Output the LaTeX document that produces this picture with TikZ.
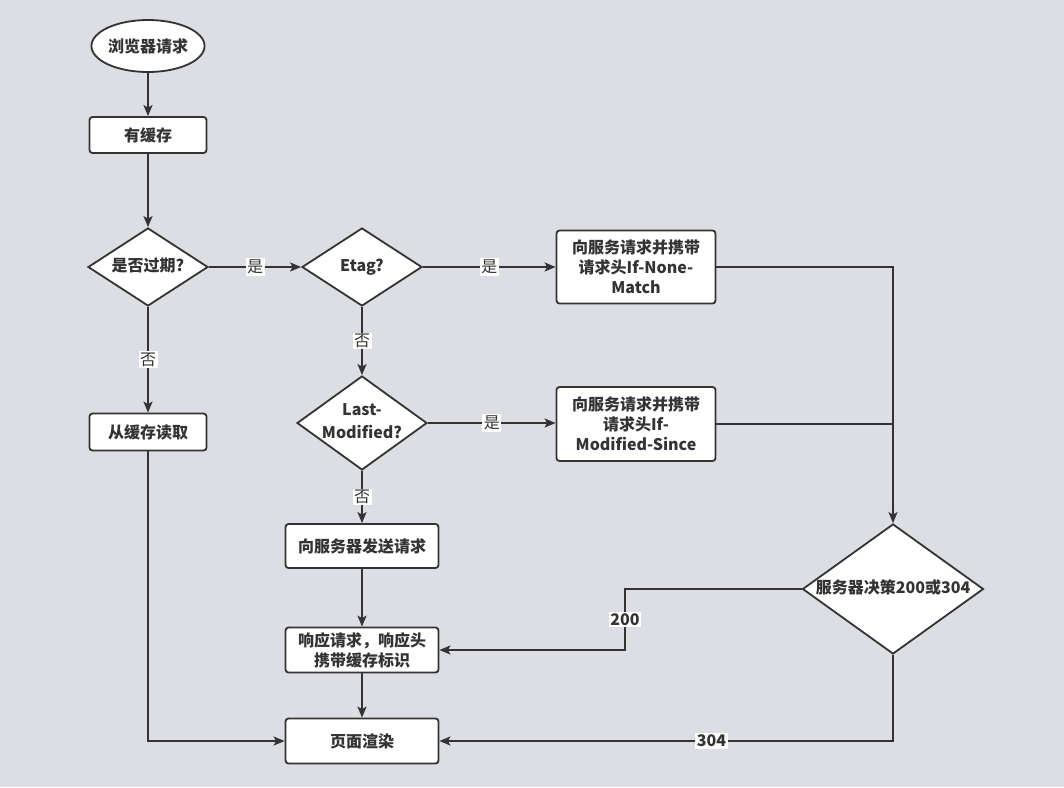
\documentclass[tikz,border=0pt]{standalone}
\usepackage{fontspec}
\setmainfont{Noto Sans CJK SC}
\usetikzlibrary{arrows.meta,shapes.geometric,calc}
\definecolor{bgc}{RGB}{221,222,227}
\definecolor{ln}{RGB}{51,51,51}
\newcommand{\zt}[1]{\makebox[0pt][c]{\begin{tabular}{@{}c@{}}#1\end{tabular}}}
\tikzset{
  base/.style={draw=ln, line width=1.8pt, fill=white, text=ln, inner sep=0pt, font=\fontsize{16}{20}\selectfont\bfseries},
  box/.style={base, rectangle, rounded corners=3pt, align=center},
  ell/.style={base, ellipse},
  dia/.style={base, diamond},
  arr/.style={draw=ln, line width=1.8pt, -{Stealth[length=11pt,width=9pt,inset=2.5pt]}},
  ln/.style={draw=ln, line width=1.8pt},
  lbl/.style={fill=white, text=ln, inner sep=1.5pt, font=\fontsize{16}{18}\selectfont},
  lblb/.style={lbl, font=\fontsize{16}{18}\selectfont\bfseries}
}
\begin{document}
\begin{tikzpicture}[x=1pt,y=-1pt]
\useasboundingbox (0,0) rectangle (1064,787);
\fill[bgc] (0,0) rectangle (1064,787);
\node[ell, minimum width=102pt, minimum height=52pt] (start) at (148,46) {浏览器请求};
\node[box, minimum width=117pt, minimum height=36pt] (cache) at (148,135) {有缓存};
\node[dia, minimum width=120pt, minimum height=78pt] (exp) at (148,267) {\zt{是否过期?}};
\node[dia, minimum width=120pt, minimum height=78pt] (etag) at (362,267) {\zt{Etag?}};
\node[box, minimum width=159pt, minimum height=73pt] (inm) at (636,267) {向服务请求并携带\\请求头If-None-\\Match};
\node[dia, minimum width=130pt, minimum height=94pt] (lm) at (362,423) {\zt{Last-\\[3pt]Modified?}};
\node[box, minimum width=159pt, minimum height=74pt] (ims) at (636,424) {向服务请求并携带\\请求头If-\\Modified-Since};
\node[box, minimum width=117pt, minimum height=37pt] (read) at (148,432) {从缓存读取};
\node[box, minimum width=153pt, minimum height=44pt] (send) at (362,546) {向服务器发送请求};
\node[box, minimum width=153pt, minimum height=45pt] (resp) at (362,650) {响应请求，响应头\\携带缓存标识};
\node[box, minimum width=153pt, minimum height=45pt] (render) at (362,741) {页面渲染};
\node[dia, minimum width=181pt, minimum height=130pt] (srv) at (893,589) {\zt{服务器决策200或304}};
\coordinate (c200) at (625,589);
\draw[arr] (start) -- (cache);
\draw[arr] (cache) -- (exp);
\draw[arr] (exp.east) -- node[lbl]{是} (etag.west);
\draw[arr] (exp.south) -- node[lbl]{否} (read.north);
\draw[arr] (etag.east) -- node[lbl]{是} (inm.west);
\draw[arr] (etag.south) -- node[lbl]{否} (lm.north);
\draw[arr] (lm.east) -- node[lbl]{是} (lm.east -| ims.west);
\draw[arr] (lm.south) -- node[lbl]{否} (send.north);
\draw[arr] (send) -- (resp);
\draw[arr] (resp) -- (render);
\draw[arr] (read.south) |- (render.west);
\draw[arr] (inm.east) -| (srv.north);
\draw[ln] (ims.east) -- (ims.east -| srv.north);
\draw[arr] (srv.west) -- (c200) -- node[lblb]{200} (c200 |- resp.east) -- (resp.east);
\draw[arr] (srv.south) |- node[lblb, pos=0.7]{304} (render.east);
\end{tikzpicture}
\end{document}
